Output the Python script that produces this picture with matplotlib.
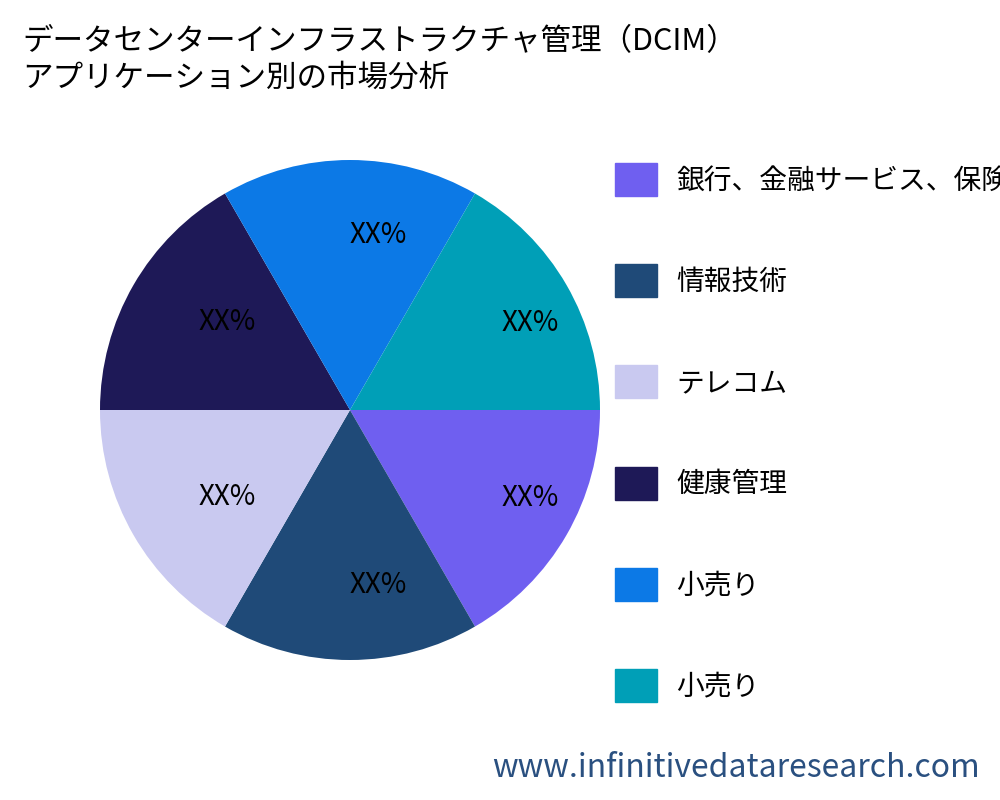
import matplotlib.pyplot as plt
from matplotlib.patches import Patch

plt.rcParams['font.family'] = ['Noto Sans CJK JP', 'DejaVu Sans']

labels = ["銀行、金融サービス、保険", "情報技術", "テレコム", "健康管理", "小売り", "小売り"]
values = [1, 1, 1, 1, 1, 1]
pct_labels = ["XX%"] * 6
colors = ["#6F5FF0", "#1F4A78", "#C9C9F0", "#1E1957", "#0C79E6", "#009FB7"]

fig = plt.figure(figsize=(10, 8), dpi=100)
ax = fig.add_axes([0.1, 0.175, 0.5, 0.625])
wedges, texts = ax.pie(values, colors=colors, startangle=0, counterclock=False,
                       labels=pct_labels, labeldistance=0.7,
                       textprops=dict(fontsize=20, va='center'))
for t in texts:
    t.set_ha('left')
ax.set_xlim(-1, 1)
ax.set_ylim(-1, 1)
ax.set_aspect('equal')

fig.text(0.022, 0.968, "データセンターインフラストラクチャ管理（DCIM）\nアプリケーション別の市場分析",
         fontsize=22, va='top', ha='left', linespacing=1.25)

handles = [Patch(color=c) for c in colors]
fig.legend(handles, labels, loc='upper left', bbox_to_anchor=(0.59, 0.827),
           frameon=False, fontsize=20, handlelength=1.5, handleheight=1.45,
           labelspacing=2.45, handletextpad=0.7)

fig.text(0.98, 0.04, "www.infinitivedataresearch.com", fontsize=23,
         color="#2A5080", ha='right', va='center')

fig.savefig("out.png")
